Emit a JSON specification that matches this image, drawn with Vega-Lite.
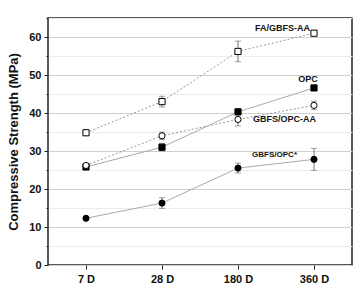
{
  "$schema": "https://vega.github.io/schema/vega-lite/v6.json",
  "width": 304,
  "height": 247,
  "autosize": "none",
  "padding": {"left": 48, "top": 18, "right": 10, "bottom": 28},
  "config": {
    "view": {"stroke": "#222", "strokeWidth": 1.5},
    "font": "Liberation Sans"
  },
  "datasets": {
    "pts": [
      {"series": "FA/GBFS-AA", "age": "7 D", "mean": 34.8, "lo": 34.3, "hi": 35.3},
      {"series": "FA/GBFS-AA", "age": "28 D", "mean": 43.0, "lo": 41.6, "hi": 44.4},
      {"series": "FA/GBFS-AA", "age": "180 D", "mean": 56.2, "lo": 53.5, "hi": 58.9},
      {"series": "FA/GBFS-AA", "age": "360 D", "mean": 61.0, "lo": 60.5, "hi": 61.5},
      {"series": "OPC", "age": "7 D", "mean": 25.8, "lo": 25.3, "hi": 26.3},
      {"series": "OPC", "age": "28 D", "mean": 31.0, "lo": 30.0, "hi": 32.0},
      {"series": "OPC", "age": "180 D", "mean": 40.3, "lo": 39.6, "hi": 41.0},
      {"series": "OPC", "age": "360 D", "mean": 46.6, "lo": 46.0, "hi": 47.2},
      {"series": "GBFS/OPC-AA", "age": "7 D", "mean": 26.2, "lo": 25.7, "hi": 26.7},
      {"series": "GBFS/OPC-AA", "age": "28 D", "mean": 34.0, "lo": 33.0, "hi": 35.0},
      {"series": "GBFS/OPC-AA", "age": "180 D", "mean": 38.3, "lo": 36.6, "hi": 40.0},
      {"series": "GBFS/OPC-AA", "age": "360 D", "mean": 42.0, "lo": 40.9, "hi": 43.1},
      {"series": "GBFS/OPC*", "age": "7 D", "mean": 12.3, "lo": 12.0, "hi": 12.6},
      {"series": "GBFS/OPC*", "age": "28 D", "mean": 16.3, "lo": 14.9, "hi": 17.7},
      {"series": "GBFS/OPC*", "age": "180 D", "mean": 25.5, "lo": 24.2, "hi": 26.8},
      {"series": "GBFS/OPC*", "age": "360 D", "mean": 27.8, "lo": 24.9, "hi": 30.7}
    ],
    "labels": [
      {"series": "FA/GBFS-AA", "age": "360 D", "y": 62.4},
      {"series": "OPC", "age": "360 D", "y": 48.9},
      {"series": "GBFS/OPC-AA", "age": "360 D", "y": 38.3},
      {"series": "GBFS/OPC*", "age": "360 D", "y": 28.9}
    ]
  },
  "encoding": {
    "x": {
      "field": "age", "type": "ordinal",
      "sort": ["7 D", "28 D", "180 D", "360 D"],
      "scale": {"type": "point", "padding": 0.5, "domain": ["7 D", "28 D", "180 D", "360 D"]},
      "axis": {
        "title": null, "labelAngle": 0, "labelFont": "Liberation Sans", "labelFontWeight": "bold",
        "labelFontSize": 11, "labelColor": "#111", "tickColor": "#222", "tickSize": 4,
        "domain": false, "grid": false, "labelPadding": 4
      }
    },
    "y": {
      "type": "quantitative",
      "scale": {"domain": [0, 65], "nice": false, "zero": true},
      "axis": {
        "title": "Compressive Strength (MPa)", "titleFont": "Liberation Sans", "titleFontSize": 13,
        "titleFontWeight": "bold", "titleColor": "#111", "titlePadding": 8,
        "values": [0, 5, 10, 15, 20, 25, 30, 35, 40, 45, 50, 55, 60, 65],
        "labelExpr": "datum.value % 10 === 0 ? datum.value : ''",
        "labelFont": "Liberation Sans", "labelFontWeight": "bold", "labelFontSize": 11, "labelColor": "#111",
        "tickColor": "#222",
        "tickSize": {"condition": {"test": "datum.value % 10 === 0", "value": 4}, "value": 2},
        "gridColor": {"condition": {"test": "datum.value % 10 === 0", "value": "#cfcfcf"}, "value": "#ececec"},
        "domain": false, "labelPadding": 3
      }
    }
  },
  "layer": [
    {
      "data": {"name": "pts"},
      "transform": [{"filter": "datum.series === 'FA/GBFS-AA' || datum.series === 'GBFS/OPC-AA'"}],
      "mark": {"type": "line", "color": "#999", "strokeWidth": 1, "strokeDash": [2, 2]},
      "encoding": {"y": {"field": "mean", "type": "quantitative"}, "detail": {"field": "series"}}
    },
    {
      "data": {"name": "pts"},
      "transform": [{"filter": "datum.series === 'OPC' || datum.series === 'GBFS/OPC*'"}],
      "mark": {"type": "line", "color": "#aaa", "strokeWidth": 1},
      "encoding": {"y": {"field": "mean", "type": "quantitative"}, "detail": {"field": "series"}}
    },
    {
      "data": {"name": "pts"},
      "mark": {"type": "errorbar", "ticks": {"size": 6, "color": "#777"}, "rule": {"color": "#777"}},
      "encoding": {
        "y": {"field": "lo", "type": "quantitative"},
        "y2": {"field": "hi"},
        "detail": {"field": "series"}
      }
    },
    {
      "data": {"name": "pts"},
      "mark": {"type": "point", "filled": true, "stroke": "#000", "strokeWidth": 1, "opacity": 1, "size": 38},
      "encoding": {
        "y": {"field": "mean", "type": "quantitative"},
        "shape": {
          "field": "series", "type": "nominal", "legend": null,
          "scale": {"domain": ["FA/GBFS-AA", "OPC", "GBFS/OPC-AA", "GBFS/OPC*"], "range": ["square", "square", "circle", "circle"]}
        },
        "fill": {
          "field": "series", "type": "nominal", "legend": null,
          "scale": {"domain": ["FA/GBFS-AA", "OPC", "GBFS/OPC-AA", "GBFS/OPC*"], "range": ["#fff", "#000", "#fff", "#000"]}
        }
      }
    },
    {
      "data": {"name": "labels"},
      "transform": [{"filter": "datum.series === 'FA/GBFS-AA'"}],
      "mark": {"type": "text", "align": "right", "dx": -4, "fontSize": 9, "fontWeight": "bold", "color": "#111"},
      "encoding": {"y": {"field": "y", "type": "quantitative"}, "text": {"field": "series"}}
    },
    {
      "data": {"name": "labels"},
      "transform": [{"filter": "datum.series === 'OPC'"}],
      "mark": {"type": "text", "align": "center", "dx": -6, "fontSize": 9, "fontWeight": "bold", "color": "#111"},
      "encoding": {"y": {"field": "y", "type": "quantitative"}, "text": {"field": "series"}}
    },
    {
      "data": {"name": "labels"},
      "transform": [{"filter": "datum.series === 'GBFS/OPC-AA'"}],
      "mark": {"type": "text", "align": "right", "dx": 2, "fontSize": 9, "fontWeight": "bold", "color": "#111"},
      "encoding": {"y": {"field": "y", "type": "quantitative"}, "text": {"field": "series"}}
    },
    {
      "data": {"name": "labels"},
      "transform": [{"filter": "datum.series === 'GBFS/OPC*'"}],
      "mark": {"type": "text", "align": "right", "dx": -17, "fontSize": 8, "fontWeight": "bold", "color": "#111"},
      "encoding": {"y": {"field": "y", "type": "quantitative"}, "text": {"field": "series"}}
    }
  ]
}
